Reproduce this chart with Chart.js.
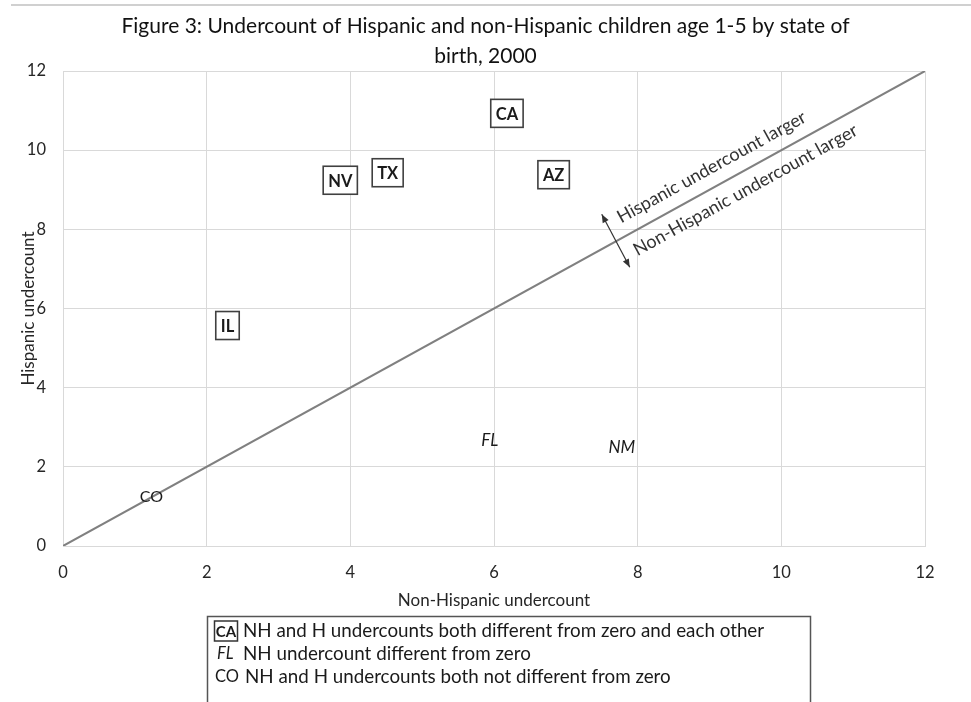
<!DOCTYPE html>
<html><head><meta charset="utf-8">
<script src="https://cdn.jsdelivr.net/npm/chart.js@4"></script>
<style>
html,body{margin:0;padding:0;background:#fff;}
#wrap{position:relative;width:971px;height:702px;overflow:hidden;}
#topline{position:absolute;left:11px;right:0;top:4px;height:2px;background:#d0d0d0;}
canvas{position:absolute;left:0;top:0;}
</style></head><body>
<div id="wrap"><canvas id="c" width="971" height="702"></canvas><div id="topline"></div></div>
<script>
// ---- data ----
const titleLines = ['Figure 3: Undercount of Hispanic and non-Hispanic children age 1-5 by state of', 'birth, 2000'];
const xAxisTitle = 'Non-Hispanic undercount';
const yAxisTitle = 'Hispanic undercount';
const axisRange = [0, 12];
const tickStep = 2;

// both different from zero and from each other (boxed, bold)
const boxedStates = ['CA', 'NV', 'TX', 'AZ', 'IL'];
const boxedNonHispanic = [6.18, 3.86, 4.52, 6.83, 2.29];
const boxedHispanic = [10.93, 9.24, 9.43, 9.38, 5.57];

// NH undercount different from zero (italic)
const italicStates = ['FL', 'NM'];
const italicNonHispanic = [5.94, 7.78];
const italicHispanic = [2.68, 2.52];

// neither different from zero (plain)
const plainStates = ['CO'];
const plainNonHispanic = [1.23];
const plainHispanic = [1.27];

// equality line
const equalityLine = [0, 12];

const annotationAbove = 'Hispanic undercount larger';
const annotationBelow = 'Non-Hispanic undercount larger';

const legendSymbols = ['CA', 'FL', 'CO'];
const legendTexts = [
  'NH and H undercounts both different from zero and each other',
  'NH undercount different from zero',
  'NH and H undercounts both not different from zero'
];

const FONT = 'Lato';

function pts(xs, ys) { return xs.map((x, i) => ({x: x, y: ys[i]})); }

const labelPlugin = {
  id: 'stateLabels',
  afterDatasetsDraw(chart) {
    const ctx = chart.ctx;
    chart.data.datasets.forEach((ds, i) => {
      if (!ds.labelStyle) return;
      const meta = chart.getDatasetMeta(i);
      meta.data.forEach((pt, j) => {
        const text = ds.stateNames[j];
        ctx.save();
        ctx.textAlign = 'center';
        ctx.textBaseline = 'middle';
        if (ds.labelStyle === 'boxed') {
          ctx.font = 'bold 16.5px ' + FONT;
          const w = ctx.measureText(text).width;
          const bw = w + 10, bh = 28;
          ctx.fillStyle = '#fff';
          ctx.fillRect(pt.x - bw / 2, pt.y - bh / 2, bw, bh);
          ctx.strokeStyle = '#404040';
          ctx.lineWidth = 1.6;
          ctx.strokeRect(pt.x - bw / 2, pt.y - bh / 2, bw, bh);
        } else if (ds.labelStyle === 'italic') {
          ctx.font = 'italic 17px ' + FONT;
        } else {
          ctx.font = '16px ' + FONT;
        }
        ctx.fillStyle = '#1a1a1a';
        ctx.fillText(text, pt.x, pt.y + 1);
        ctx.restore();
      });
    });

    // annotations along the equality line
    const xs = chart.scales.x, ys = chart.scales.y;
    const ang = Math.atan2(ys.getPixelForValue(12) - ys.getPixelForValue(0), xs.getPixelForValue(12) - xs.getPixelForValue(0));
    ctx.save();
    ctx.fillStyle = '#333';
    ctx.font = '18px ' + FONT;
    ctx.textAlign = 'center';
    ctx.textBaseline = 'middle';
    [[annotationAbove, 9.03, 9.57], [annotationBelow, 9.50, 8.99]].forEach(([t, dx, dy]) => {
      ctx.save();
      ctx.translate(xs.getPixelForValue(dx), ys.getPixelForValue(dy));
      ctx.rotate(ang);
      ctx.fillText(t, 0, 0);
      ctx.restore();
    });
    // double arrow
    const ax1 = xs.getPixelForValue(7.50), ay1 = ys.getPixelForValue(8.38);
    const ax2 = xs.getPixelForValue(7.89), ay2 = ys.getPixelForValue(7.04);
    ctx.strokeStyle = '#333';
    ctx.lineWidth = 1.2;
    ctx.beginPath(); ctx.moveTo(ax1, ay1); ctx.lineTo(ax2, ay2); ctx.stroke();
    function head(x, y, fx, fy) {
      const a = Math.atan2(y - fy, x - fx);
      ctx.beginPath();
      ctx.moveTo(x, y);
      ctx.lineTo(x - 9 * Math.cos(a - 0.38), y - 9 * Math.sin(a - 0.38));
      ctx.lineTo(x - 9 * Math.cos(a + 0.38), y - 9 * Math.sin(a + 0.38));
      ctx.closePath();
      ctx.fill();
    }
    head(ax1, ay1, ax2, ay2);
    head(ax2, ay2, ax1, ay1);
    ctx.restore();
  },
  afterDraw(chart) {
    const ctx = chart.ctx;
    ctx.save();
    ctx.strokeStyle = '#555';
    ctx.lineWidth = 1.5;
    ctx.strokeRect(207.5, 616.5, 603, 110);
    const rowsY = [631, 654, 677];
    ctx.textBaseline = 'middle';
    ctx.fillStyle = '#1a1a1a';
    legendSymbols.forEach((s, i) => {
      const y = rowsY[i];
      ctx.textAlign = 'left';
      if (i === 0) {
        ctx.font = 'bold 15px ' + FONT;
        ctx.textAlign = 'center';
        ctx.fillText(s, 226, y + 1);
        ctx.lineWidth = 1.5;
        ctx.strokeStyle = '#333';
        ctx.strokeRect(214.5, y - 10, 23, 20);
      } else if (i === 1) {
        ctx.font = 'italic 16.5px ' + FONT;
        ctx.fillText(s, 217, y);
      } else {
        ctx.font = '16.5px ' + FONT;
        ctx.fillText(s, 215, y);
      }
      ctx.textAlign = 'left';
      ctx.font = '18.8px ' + FONT;
      ctx.fillText(legendTexts[i], i === 2 ? 245 : 243, y);
    });
    ctx.restore();
  }
};

const gridColor = '#d9d9d9';
const tickFont = {family: FONT, size: 16.5};

new Chart(document.getElementById('c').getContext('2d'), {
  type: 'scatter',
  data: {
    datasets: [
      {data: pts(equalityLine, equalityLine), showLine: true, borderColor: '#808080', borderWidth: 2, pointRadius: 0, fill: false},
      {data: pts(boxedNonHispanic, boxedHispanic), stateNames: boxedStates, labelStyle: 'boxed', pointRadius: 0},
      {data: pts(italicNonHispanic, italicHispanic), stateNames: italicStates, labelStyle: 'italic', pointRadius: 0},
      {data: pts(plainNonHispanic, plainHispanic), stateNames: plainStates, labelStyle: 'plain', pointRadius: 0}
    ]
  },
  options: {
    responsive: false,
    animation: false,
    events: [],
    layout: {padding: {left: 0, right: 0, top: 0, bottom: 86}},
    plugins: {
      legend: {display: false},
      tooltip: {enabled: false},
      title: {
        display: true, text: titleLines, color: '#111',
        font: {family: FONT, size: 21, weight: 'normal', lineHeight: '30px'},
        padding: {top: 11, bottom: 0}
      }
    },
    scales: {
      x: {
        type: 'linear', min: axisRange[0], max: axisRange[1],
        ticks: {stepSize: tickStep, padding: 17, font: tickFont, color: '#262626'},
        grid: {color: gridColor, drawTicks: false},
        border: {color: gridColor},
        title: {display: true, text: xAxisTitle, color: '#262626', font: {family: FONT, size: 17}, padding: {top: 0, bottom: 5}},
        afterFit(s) { s.height = 70; }
      },
      y: {
        type: 'linear', min: axisRange[0], max: axisRange[1],
        ticks: {stepSize: tickStep, padding: 17, font: tickFont, color: '#262626'},
        grid: {color: gridColor, drawTicks: false},
        border: {color: gridColor},
        title: {display: true, text: yAxisTitle, color: '#262626', font: {family: FONT, size: 17}, padding: {top: 18, bottom: 0}},
        afterFit(s) { s.width = 63; }
      },
      yRight: {
        type: 'linear', position: 'right', min: axisRange[0], max: axisRange[1],
        ticks: {display: false},
        grid: {display: false, drawTicks: false},
        border: {display: false},
        afterFit(s) { s.width = 46; }
      }
    }
  },
  plugins: [labelPlugin]
});
</script>
</body></html>
